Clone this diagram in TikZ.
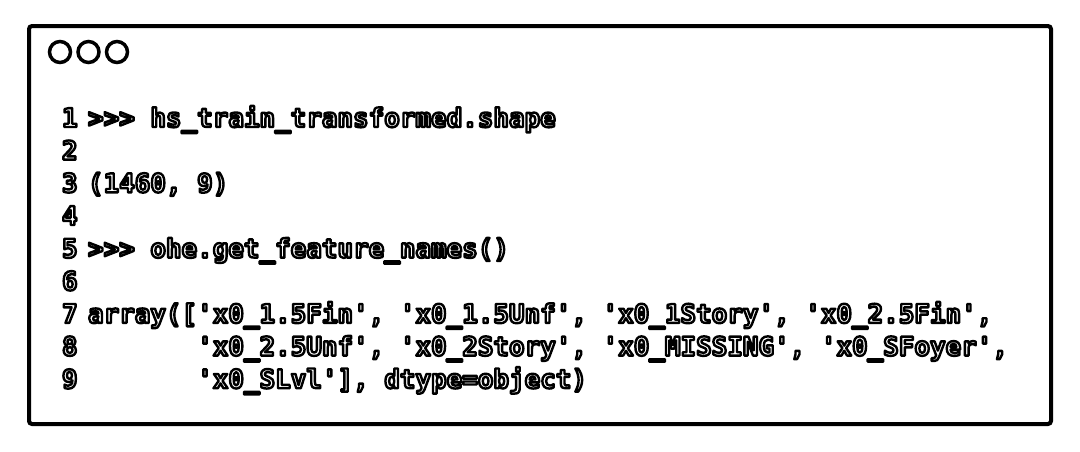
\documentclass[tikz,border=0pt]{standalone}
\usepackage{fontspec}
\newfontfamily\codefont[Ligatures=TeXOff]{DejaVu Sans Mono}
\newcommand{\cl}[1]{\special{pdf:literal direct 2 Tr 2.4 w 1 j 0 0 0 RG 1 1 1 rg}#1\special{pdf:literal direct 0 Tr}}
\tikzset{
  codeline/.style={anchor=base west, inner sep=0pt, outer sep=0pt,
    font=\codefont\bfseries\fontsize{25.9pt}{30pt}\selectfont},
  winframe/.style={draw=black, line width=4pt, rounded corners=3pt},
  dot/.style={circle, draw=black, line width=3.5pt, minimum size=21pt, inner sep=0pt}
}
\begin{document}
\begin{tikzpicture}[x=1pt, y=-1pt]
\useasboundingbox (0,0) rectangle (1080,451);
\draw[winframe] (29,26) rectangle (1051,424);
\node[dot] (c1) at (60,52) {};
\node[dot] (c2) at (88.5,52) {};
\node[dot] (c3) at (117,52) {};
% line numbers
\foreach \i in {1,...,9}{
  \node[codeline] (n\i) at (62,{127+(\i-1)*32.65}) {\cl{\i}};
}
\node[codeline] (l1) at (88,127) {\cl{>>> hs\_train\_transformed.shape}};
\node[codeline] (l3) at (88,{127+2*32.65}) {\cl{(1460, 9)}};
\node[codeline] (l5) at (88,{127+4*32.65}) {\cl{>>> ohe.get\_feature\_names()}};
\node[codeline] (l7) at (88,{127+6*32.65}) {\cl{array(['x0\_1.5Fin', 'x0\_1.5Unf', 'x0\_1Story', 'x0\_2.5Fin',}};
\node[codeline] (l8) at (197.2,{127+7*32.65}) {\cl{'x0\_2.5Unf', 'x0\_2Story', 'x0\_MISSING', 'x0\_SFoyer',}};
\node[codeline] (l9) at (197.2,{127+8*32.65}) {\cl{'x0\_SLvl'], dtype=object)}};
\end{tikzpicture}
\end{document}
